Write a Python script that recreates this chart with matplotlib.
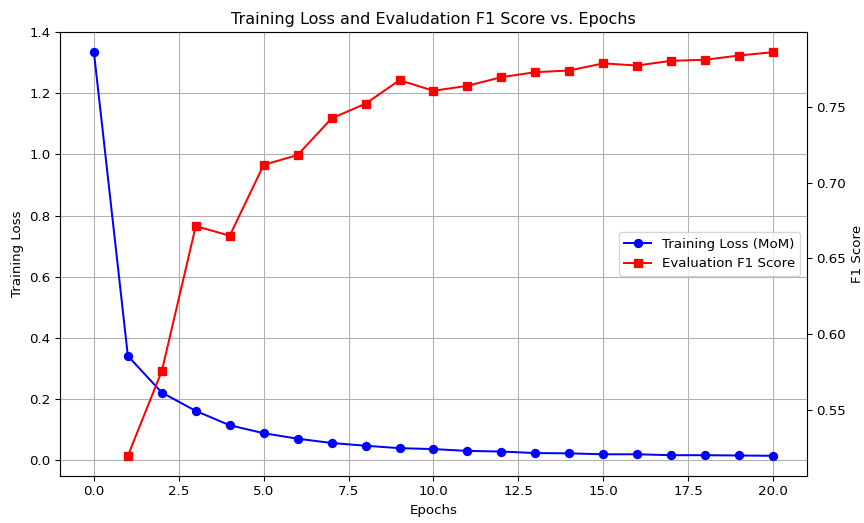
import matplotlib
matplotlib.use('Agg')
import matplotlib.pyplot as plt

# loss per epoch (MoM), f1 measured from epoch 1
loss_epochs = list(range(0, 21))
train_loss = [1.335, 0.34, 0.22, 0.16, 0.113, 0.087, 0.069, 0.055, 0.046, 0.038, 0.035,
              0.029, 0.027, 0.022, 0.021, 0.018, 0.018, 0.015, 0.015, 0.014, 0.013]

f1_epochs = list(range(1, 21))
eval_f1 = [0.5197, 0.5757, 0.6714, 0.6650, 0.7118, 0.7183, 0.7425, 0.7522, 0.7677, 0.7607,
           0.7640, 0.7697, 0.7730, 0.7741, 0.7788, 0.7774, 0.7805, 0.7812, 0.7840, 0.7862]

# 9 x 5.448 in at 96 dpi -> 864 x 523 px
fig, ax1 = plt.subplots(figsize=(9, 5.448), dpi=96)
l1, = ax1.plot(loss_epochs, train_loss, 'b-o', label='Training Loss (MoM)')
ax1.set_xlabel('Epochs')
ax1.set_ylabel('Training Loss')
ax1.grid(True)

ax2 = ax1.twinx()
l2, = ax2.plot(f1_epochs, eval_f1, 'r-s', label='Evaluation F1 Score')
ax2.set_ylabel('F1 Score')

ax2.legend([l1, l2], [l1.get_label(), l2.get_label()], loc='center right')
plt.title('Training Loss and Evaludation F1 Score vs. Epochs')
fig.subplots_adjust(left=0.0694, right=0.934, top=0.9388, bottom=0.0899)
fig.savefig('out.png', dpi=96)
